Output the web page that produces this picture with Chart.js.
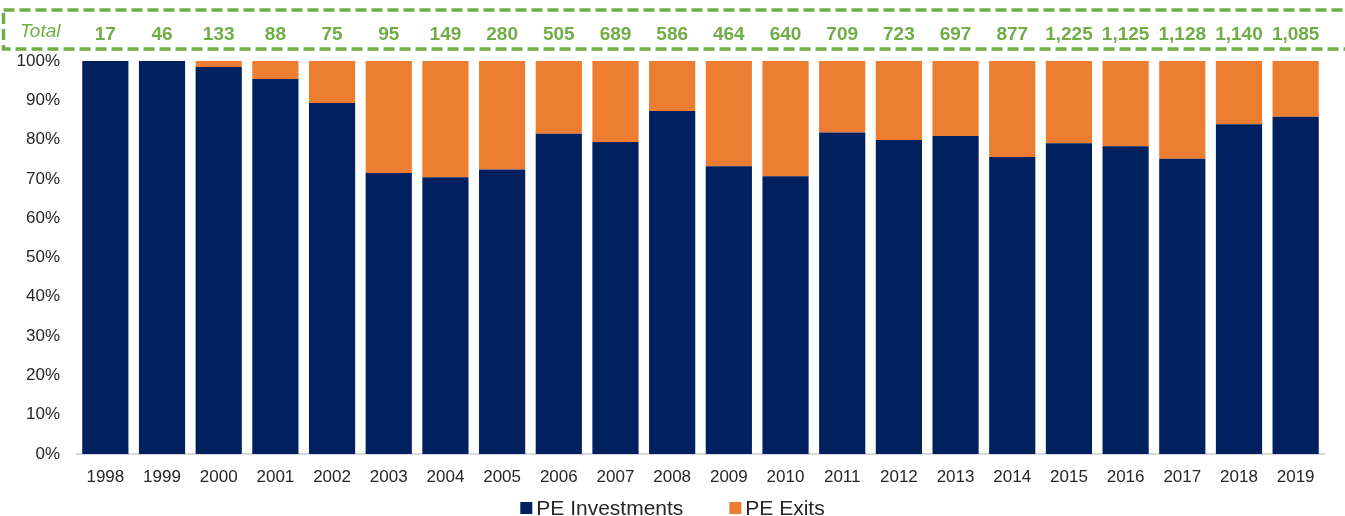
<!DOCTYPE html>
<html>
<head>
<meta charset="utf-8">
<script src="https://cdn.jsdelivr.net/npm/chart.js@4.4.1/dist/chart.umd.min.js"></script>
<style>
  html, body { margin: 0; padding: 0; background: #fff; }
  #wrap { position: relative; width: 1345px; height: 516px; }
</style>
</head>
<body>
<div id="wrap"><canvas id="chart"></canvas></div>
<script>
// Share of PE investments vs exits per year, with deal totals on top
const years = ['1998', '1999', '2000', '2001', '2002', '2003', '2004', '2005', '2006', '2007', '2008',
  '2009', '2010', '2011', '2012', '2013', '2014', '2015', '2016', '2017', '2018', '2019']
const investmentsPct = [100, 100, 98.5, 95.4, 89.3, 71.5, 70.4, 72.4, 81.5, 79.4, 87.3,
  73.2, 70.7, 81.8, 79.9, 80.9, 75.6, 79.1, 78.3, 75.1, 83.9, 85.8]
const exitsPct = [0, 0, 1.5, 4.6, 10.7, 28.5, 29.6, 27.6, 18.5, 20.6, 12.7,
  26.8, 29.3, 18.2, 20.1, 19.1, 24.4, 20.9, 21.7, 24.9, 16.1, 14.2]
const totals = [17, 46, 133, 88, 75, 95, 149, 280, 505, 689, 586,
  464, 640, 709, 723, 697, 877, 1225, 1125, 1128, 1140, 1085]
const yTicks = [0, 10, 20, 30, 40, 50, 60, 70, 80, 90, 100]

const FONT = "'Liberation Sans', Arial, sans-serif"
const GREEN = '#70AD47'

// Draws the dashed "Total" band above the bars
const totalsBand = {
  id: 'totalsBand',
  afterDraw(chart) {
    const ctx = chart.ctx
    const x = chart.scales.x
    ctx.save()
    ctx.strokeStyle = GREEN
    ctx.lineWidth = 3.5
    ctx.setLineDash([11, 5])
    ctx.strokeRect(3.5, 10, 1400, 39)
    ctx.setLineDash([])

    ctx.fillStyle = GREEN
    ctx.textBaseline = 'middle'
    ctx.textAlign = 'left'
    ctx.font = 'italic 19px ' + FONT
    ctx.fillText('Total', 20, 32)

    ctx.textAlign = 'center'
    ctx.font = 'bold 19px ' + FONT
    totals.forEach((t, i) => {
      ctx.fillText(t.toLocaleString('en-US'), x.getPixelForValue(i), 35)
    })
    ctx.restore()
  }
}

// Legend at the bottom: small square, tight gap, wide spacing between items
const bottomLegend = {
  id: 'bottomLegend',
  afterDraw(chart) {
    const ctx = chart.ctx
    const box = 12, boxGap = 4, itemGap = 46, y = 508
    ctx.save()
    ctx.font = '21px ' + FONT
    ctx.textBaseline = 'middle'
    ctx.textAlign = 'left'
    const items = chart.data.datasets.map(ds => ({
      text: ds.label,
      color: ds.backgroundColor,
      width: box + boxGap + ctx.measureText(ds.label).width
    }))
    const total = items.reduce((s, it) => s + it.width, 0) + itemGap * (items.length - 1)
    let x = chart.width / 2 - total / 2
    items.forEach(it => {
      ctx.fillStyle = it.color
      ctx.fillRect(x, y - box / 2, box, box)
      ctx.fillStyle = '#262626'
      ctx.fillText(it.text, x + box + boxGap, y + 1)
      x += it.width + itemGap
    })
    ctx.restore()
  }
}

new Chart(document.getElementById('chart'), {
  type: 'bar',
  data: {
    labels: years,
    datasets: [
      {
        label: 'PE Investments',
        data: investmentsPct,
        backgroundColor: '#002060',
        borderWidth: 0
      },
      {
        label: 'PE Exits',
        data: exitsPct,
        backgroundColor: '#ED7D31',
        borderWidth: 0
      }
    ]
  },
  options: {
    responsive: true,
    maintainAspectRatio: false,
    animation: false,
    layout: {
      padding: { top: 61, right: 21, bottom: 32, left: 0 }
    },
    datasets: {
      bar: {
        categoryPercentage: 1,
        barPercentage: 0.815
      }
    },
    plugins: {
      legend: { display: false },
      tooltip: { enabled: false }
    },
    scales: {
      x: {
        stacked: true,
        grid: { display: false },
        border: { display: true, color: '#D9D9D9', width: 2 },
        ticks: {
          color: '#262626',
          padding: 5,
          maxRotation: 0,
          autoSkip: false,
          font: { family: FONT, size: 17 }
        },
        afterFit(scale) {
          scale.height = 30
        }
      },
      y: {
        stacked: true,
        min: 0,
        max: 100,
        grid: { display: false },
        border: { display: false },
        afterBuildTicks(scale) {
          scale.ticks = yTicks.map(v => ({ value: v }))
        },
        ticks: {
          color: '#262626',
          padding: 9,
          font: { family: FONT, size: 17 },
          callback: function(value) {
            return value + '%'
          }
        },
        afterFit(scale) {
          scale.width = 77
        }
      }
    }
  },
  plugins: [totalsBand, bottomLegend]
})
</script>
</body>
</html>
